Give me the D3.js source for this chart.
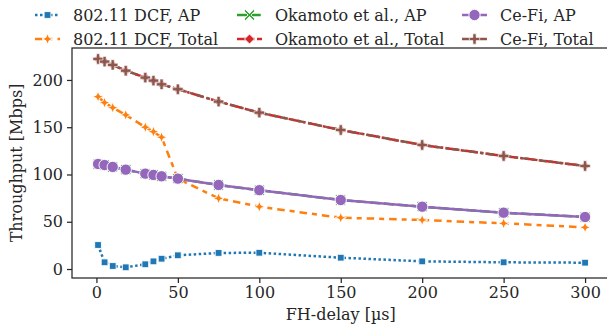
<!DOCTYPE html>
<html>
<head>
<meta charset="utf-8">
<script src="https://cdn.jsdelivr.net/npm/d3@7"></script>
<style>
  body { margin: 0; background: #fff; }
  text { font-family: "DejaVu Serif", serif; fill: #262626; }
</style>
</head>
<body>
<script>
// FH-delay values [us]
var delays = [1, 5, 10, 18, 30, 35, 40, 50, 75, 100, 150, 200, 250, 300];

var dcfAP    = [25.4, 7.1, 3.2, 1.8, 5.0, 8.1, 10.9, 14.5, 17.0, 17.2, 12.0, 8.1, 7.1, 6.7];
var dcfTotal = [182.3, 176, 170.7, 163, 150, 145.3, 139.4, 95.5, 74.8, 65.9, 54.3, 51.9, 48.3, 44.1];
var okaAP    = [111.0, 110, 108, 105.1, 100.9, 99.5, 98.1, 95.6, 88.9, 83.4, 73.0, 65.9, 59.6, 55.0];
var okaTotal = [222.0, 219.4, 215.9, 209.8, 202.5, 199.3, 195.4, 190.2, 177.1, 165.4, 147.1, 131.2, 119.6, 109.0];
var cefiAP   = [111.1, 110, 108, 105.1, 100.9, 99.5, 98.1, 95.6, 88.9, 83.4, 73.0, 65.9, 59.6, 55.0];
var cefiTotal= [222.2, 219.4, 215.9, 209.8, 202.5, 199.3, 195.4, 190.2, 177.1, 165.4, 147.1, 131.2, 119.6, 109.0];

var seriesNames = ["802.11 DCF, AP", "802.11 DCF, Total", "Okamoto et al., AP",
                   "Okamoto et al., Total", "Ce-Fi, AP", "Ce-Fi, Total"];
var seriesValues = [dcfAP, dcfTotal, okaAP, okaTotal, cefiAP, cefiTotal];
var colors = ["#1f77b4", "#ff7f0e", "#2ca02c", "#d62728", "#9467bd", "#8c564b"];
var dashes = ["2.5,2.5", "7.5,5,5,5", "10,3.75", "12.5,2.5,2.5,2.5", null, "7.5,3.1,3.75,3.1"];
var markers = ["square", "star4", "x", "diamond", "circle", "plus"];

var xTicks = [0, 50, 100, 150, 200, 250, 300];
var yTicks = [0, 50, 100, 150, 200];

var width = 607, height = 330;
var plot = { left: 72, right: 609.5, top: 48, bottom: 278 };

var svg = d3.select("body").append("svg")
    .attr("width", width)
    .attr("height", height);

var xScale = d3.scaleLinear().domain([-15, 315]).range([plot.left, plot.right]);
var yScale = d3.scaleLinear().domain([-9.5, 233.8]).range([plot.bottom, plot.top]);

// axes
var xAxis = d3.axisBottom(xScale).tickValues(xTicks).tickSize(5).tickPadding(4);
var yAxis = d3.axisLeft(yScale).tickValues(yTicks).tickSize(5).tickPadding(4);

var xAxisG = svg.append("g")
    .attr("transform", "translate(0," + plot.bottom + ")")
    .call(xAxis);
var yAxisG = svg.append("g")
    .attr("transform", "translate(" + plot.left + ",0)")
    .call(yAxis);

[xAxisG, yAxisG].forEach(function(g) {
    g.select(".domain").remove();
    g.selectAll(".tick line").attr("stroke", "#262626").attr("stroke-width", 1.25);
    g.selectAll(".tick text").style("font-size", "16px").attr("fill", "#262626");
});

// frame: left, bottom, top (right is off-screen)
svg.append("rect")
    .attr("x", plot.left).attr("y", plot.top)
    .attr("width", plot.right - plot.left).attr("height", plot.bottom - plot.top)
    .attr("fill", "none").attr("stroke", "#262626").attr("stroke-width", 1.25);

svg.append("text")
    .attr("x", (plot.left + plot.right) / 2)
    .attr("y", 320)
    .attr("text-anchor", "middle")
    .style("font-size", "16px")
    .text("FH-delay [µs]");

svg.append("text")
    .attr("transform", "translate(22," + ((plot.top + plot.bottom) / 2) + ") rotate(-90)")
    .attr("text-anchor", "middle")
    .style("font-size", "16px")
    .text("Throughput [Mbps]");

function markerPath(kind) {
    if (kind == "square") return d3.symbol(d3.symbolSquare, 46)();
    if (kind == "circle") return d3.symbol(d3.symbolCircle, 100)();
    if (kind == "plus") return "M-1.6,-5.2h3.2v3.6h3.6v3.2h-3.6v3.6h-3.2v-3.6h-3.6v-3.2h3.6z";
    if (kind == "x") return "M-4,-5.4L0,-1.4L4,-5.4L5.4,-4L1.4,0L5.4,4L4,5.4L0,1.4L-4,5.4L-5.4,4L-1.4,0L-5.4,-4z";
    if (kind == "diamond") return "M0,-5L5,0L0,5L-5,0z";
    if (kind == "star4") return "M0,-5.5L1.6,-1.6L5.5,0L1.6,1.6L0,5.5L-1.6,1.6L-5.5,0L-1.6,-1.6z";
}

function drawMarker(g, kind, color, x, y) {
    g.append("path")
        .attr("d", markerPath(kind))
        .attr("transform", "translate(" + x + "," + y + ")")
        .attr("fill", color)
        .attr("stroke", "#fff")
        .attr("stroke-width", kind == "plus" ? 0.6 : 0.9);
}

var line = d3.line()
    .x(function(d) { return xScale(d[0]); })
    .y(function(d) { return yScale(d[1]); });

seriesValues.forEach(function(vals, i) {
    var pts = delays.map(function(d, j) { return [d, vals[j]]; });
    var g = svg.append("g");
    g.append("path")
        .datum(pts)
        .attr("d", line)
        .attr("fill", "none")
        .attr("stroke", colors[i])
        .attr("stroke-width", 2.5)
        .attr("stroke-dasharray", dashes[i]);
    pts.forEach(function(p) {
        drawMarker(g, markers[i], colors[i], xScale(p[0]), yScale(p[1]));
    });
});

// legend, 3 columns, filled column by column
var legX = [35, 237, 462];
var legY = [15, 39];
seriesNames.forEach(function(name, i) {
    var col = Math.floor(i / 2), row = i % 2;
    var g = svg.append("g").attr("transform", "translate(" + legX[col] + "," + legY[row] + ")");
    g.append("line")
        .attr("x1", 0).attr("x2", 25).attr("y1", 0).attr("y2", 0)
        .attr("stroke", colors[i])
        .attr("stroke-width", 2.5)
        .attr("stroke-dasharray", dashes[i]);
    drawMarker(g, markers[i], colors[i], 12.5, 0);
    g.append("text")
        .attr("x", 38).attr("y", 0)
        .attr("dy", "0.35em")
        .style("font-size", "16px")
        .text(name);
});
</script>
</body>
</html>
